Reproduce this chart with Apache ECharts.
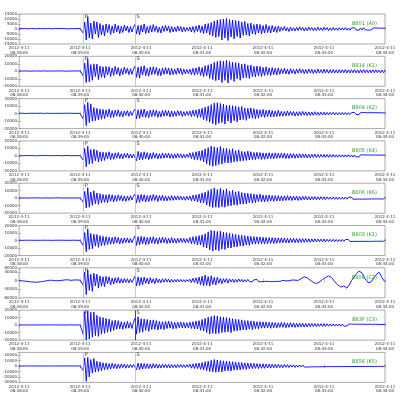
<!DOCTYPE html>
<html>
<head>
<meta charset="utf-8">
<script src="https://cdn.jsdelivr.net/npm/echarts@6/dist/echarts.min.js"></script>
<style>
  html, body { margin: 0; padding: 0; background: #fff; }
  #main { width: 413px; height: 399px; }
</style>
</head>
<body>
<div id="main"></div>
<script>
  // station names
  const stations = ['B801 (A0)', 'B814 (K1)', 'B804 (K2)', 'B805 (K4)', 'B806 (K6)', 'B803 (K1)', 'B808 (C2)', 'B83F (C3)', 'B856 (K5)'];
  // x tick labels (every 40 samples)
  const tickLabels = ['2012-4-11\n08:38:00', '2012-4-11\n08:39:00', '2012-4-11\n08:40:00', '2012-4-11\n08:41:00',
    '2012-4-11\n08:42:00', '2012-4-11\n08:43:00', '2012-4-11\n08:44:00'];
  // phase picks (sample index)
  const phases = [['P', 42], ['S', 76]];
  // y ranges per panel [min, max, interval], counts / 100
  const yRanges = [[-150, 150, 50], [-200, 200, 100], [-200, 200, 100], [-200, 200, 100], [-200, 200, 100],
    [-200, 200, 100], [-800, 600, 400], [-200, 200, 100], [-300, 250, 100]];

  // waveforms, counts / 100
  const w1 = [3,-4,5,-2,4,-5,2,-3,6,-4, 2,-5,4,-3,5,-2,3,-6,4,-2, 5,-3,2,-4,6,-3,4,-2,5,-4, 3,-5,2,-3,4,-6,3,-2,5,-3, 4,-2,
    -40,70,-110,125,-90,60,-100,80,-50,70, -85,55,-60,40,-70,50,-35,45,-55,30, -40,50,-30,35,-45,25,-35,40,-20,30, -35,25,-30,20,
    45,-50,35,-60,40,-30,50,-45,25,-40, 35,-30,45,-25,30,-35,20,-40,30,-25, 35,-20,30,-35,25,-30,20,-25,30,-20, 25,-30,20,-25,15,-20,
    20,-30,25,-35,30,-25,40,-35,30,-45, 50,-40,55,-60,65,-70,80,-85,90,-75, 95,-110,100,-90,105,-115,95,-80,90,-100,
    85,-75,80,-90,70,-65,75,-60,55,-70, 60,-50,45,-55,50,-40,45,-50,35,-40, 45,-35,30,-40,35,-30,25,-35,30,-25,
    20,-15,25,-20,15,-25,20,-18,12,-20, 18,-15,22,-12,16,-20,14,-18,20,-12, 15,-18,12,-16,20,-14,12,-15,18,-10,
    14,-16,12,-14,15,-12,10,-14,13,-11, 12,-10,14,-12,10,-13,11,-9,12,-10, 9,-12,11,-10,13,-9,10,-11,8,-10, 11,-9,10,-8,9,-10,8,-9,7];
  const w2 = [3,-5,4,-2,5,-4,3,-6,2,-4, 5,-3,4,-5,2,-3,6,-4,3,-2, 4,-5,3,-4,5,-2,4,-3,6,-5, 2,-4,3,-5,4,-3,5,-2,3,-4, 5,-3,
    -60,110,-150,170,-140,90,-120,100,-70,95, -110,70,-80,60,-90,65,-50,60,-70,45, -55,65,-40,50,-60,35,-45,55,-30,40, -45,35,-40,30,
    70,-80,55,-90,65,-50,75,-60,40,-65, 55,-45,60,-40,50,-55,35,-60,45,-40, 50,-35,45,-50,40,-45,30,-40,45,-30, 40,-45,30,-35,25,-30,
    30,-45,40,-50,45,-40,60,-55,50,-70, 75,-60,85,-95,100,-110,120,-125,130,-115, 140,-150,135,-120,145,-155,130,-110,120,-135,
    115,-100,110,-120,95,-90,100,-85,80,-95, 85,-70,65,-75,70,-60,65,-70,50,-55, 60,-50,45,-55,50,-45,40,-50,45,-40,
    35,-30,40,-35,30,-40,35,-28,25,-35, 30,-25,35,-22,28,-32,24,-30,32,-22, 26,-30,22,-26,30,-24,22,-25,28,-20,
    24,-26,22,-24,25,-22,20,-24,23,-21, 22,-20,24,-22,20,-23,21,-19,22,-20, 19,-22,21,-20,23,-19,20,-21,18,-20, 21,-19,20,-18,19,-20,18,-19,17];
  const w3 = [4,-3,5,-4,2,-5,3,-4,5,-2, 3,-5,4,-3,6,-4,2,-3,5,-4, 3,-2,4,-5,3,-4,5,-3,2,-4, 6,-3,4,-2,5,-4,3,-5,4,-3, 2,-4,
    -70,120,-160,150,-120,130,-100,80,-95,70, -85,60,-75,55,-65,50,-45,60,-55,40, -50,45,-35,50,-40,30,-45,35,-25,40, -35,30,-25,30,
    60,-70,50,-65,55,-45,60,-50,35,-55, 45,-40,50,-35,45,-50,30,-45,40,-35, 45,-30,40,-45,35,-40,30,-35,40,-25, 35,-40,25,-30,30,-25,
    35,-40,45,-35,50,-55,60,-50,70,-80, 85,-95,100,-115,120,-135,140,-150,145,-130, 135,-120,125,-140,110,-100,115,-125,105,-95,
    100,-110,90,-85,95,-80,75,-90,70,-65, 75,-60,65,-70,55,-60,50,-45,55,-50, 45,-40,50,-45,40,-45,35,-40,45,-35,
    30,-35,28,-32,36,-26,30,-24,28,-33, 24,-28,26,-24,29,-21,24,-27,22,-25, 20,-23,25,-20,18,-22,20,-17,19,-20,
    16,-18,17,-15,18,-16,14,-17,15,-14, 16,-13,15,-16,13,-15,14,-12,15,-13, 12,-14,13,-12,14,-11,12,-13,11,-12, 13,-11,12,-10,11,-12,10,-11,10];
  const w4 = [3,-4,2,-5,4,-3,5,-2,4,-4, 3,-5,2,-4,5,-3,4,-2,6,-3, 4,-5,3,-2,4,-4,5,-3,2,-5, 4,-3,5,-4,2,-3,4,-5,3,-2, 4,-3,
    -55,100,-145,130,-110,85,-100,90,-65,75, -80,55,-70,50,-60,45,-40,55,-50,35, -45,40,-30,45,-35,28,-40,32,-22,35, -30,26,-28,24,
    50,-65,60,-55,45,-50,55,-40,45,-50, 35,-40,45,-30,35,-40,30,-35,40,-30, 35,-25,38,-32,28,-34,25,-30,32,-22, 28,-30,22,-26,24,-20,
    40,-35,45,-50,55,-50,65,-60,75,-80, 95,-105,110,-125,130,-140,120,-130,110,-115, 125,-110,100,-90,100,-95,85,-90,95,-80,
    70,-75,80,-70,60,-65,55,-60,65,-55, 55,-50,45,-50,48,-42,45,-48,40,-45, 38,-40,42,-36,35,-38,40,-32,35,-30,
    35,-30,38,-35,30,-35,32,-28,30,-32, 26,-28,30,-25,27,-24,26,-28,22,-25, 23,-20,24,-22,19,-21,20,-18,19,-17,
    18,-20,17,-18,19,-16,15,-17,16,-15, 14,-16,15,-14,16,-13,14,-15,13,-14, 12,-13,14,-12,13,-11,12,-13,11,-12, 12,-11,10,-12,11,-10,11,-10,9];
  const w5 = [2,-4,4,-3,3,-5,2,-3,4,-2, 3,-4,5,-3,2,-4,3,-2,4,-3, 2,-5,3,-4,4,-2,5,-3,3,-4, 2,-3,4,-5,3,-2,4,-3,2,-4, 3,-2,
    -50,90,-130,140,-120,80,-95,100,-75,70, -80,60,-65,50,-55,45,-60,50,-40,45, -50,35,-40,45,-30,35,-38,30,-42,28, -30,32,-25,28,
    55,-60,45,-55,50,-40,45,-50,35,-45, 40,-35,50,-30,40,-45,35,-30,40,-35, 30,-35,25,-30,35,-28,30,-25,32,-22, 28,-26,22,-28,25,-22,
    30,-35,40,-38,45,-50,55,-60,70,-65, 80,-90,100,-110,120,-125,135,-120,115,-125, 130,-115,110,-120,125,-105,95,-100,105,-90,
    85,-95,90,-80,75,-80,70,-75,65,-60, 60,-65,55,-60,50,-45,55,-50,42,-48, 40,-45,42,-38,36,-42,35,-38,34,-36,
    30,-35,32,-30,35,-28,30,-32,27,-25, 28,-30,24,-26,25,-22,26,-23,20,-24, 22,-19,21,-20,18,-19,20,-17,18,-16,
    17,-15,16,-14,17,-15,15,-16,14,-15, 13,-14,15,-13,14,-12,13,-14,12,-13, 12,-11,13,-12,11,-12,10,-11,12,-10, 11,-10,10,-9,10,-11,9,-10,9];
  const w6 = [3,-3,2,-4,3,-2,4,-3,3,-3, 2,-4,3,-3,2,-3,4,-3,3,-2, 3,-4,2,-3,4,-3,3,-2,4,-4, 3,-3,2,-4,3,-3,4,-2,3,-3, 2,-3,
    -65,105,-150,155,-120,95,-110,85,-75,80, -90,65,-70,55,-65,50,-55,45,-50,40, -45,50,-35,40,-45,30,-38,34,-28,36, -32,26,-30,24,
    60,-65,50,-60,55,-45,50,-55,40,-50, 45,-35,50,-40,35,-45,40,-35,45,-30, 38,-40,30,-35,40,-32,28,-36,30,-28, 32,-26,28,-30,24,-28,
    40,-45,50,-48,55,-60,65,-60,75,-85, 90,-100,115,-125,135,-140,130,-125,120,-135, 125,-115,110,-120,105,-100,95,-100,90,-85,
    80,-85,75,-70,70,-75,65,-60,60,-65, 55,-50,52,-48,50,-45,48,-44,42,-46, 40,-42,40,-38,38,-40,35,-38,36,-34,
    35,-30,35,-32,30,-33,29,-27,30,-28, 26,-29,25,-26,24,-25,26,-22,23,-24, 21,-20,22,-19,20,-18,19,-17,18,-16,
    17,-15,15,-14,16,-15,14,-15,13,-14, 15,-13,14,-12,13,-14,12,-13,12,-11, 13,-12,11,-12,12,-10,11,-12,10,-11, 11,-10,10,-11,10,-9,9,-10,9];
  const w7 = [0,-15,-10,-30,-25,-40,-35,-55,-60,-70, -65,-80,-75,-70,-50,-45,-30,-20,-5,10, 20,25,15,5,-5,-10,0,5,15,25, 35,30,40,25,15,20,30,25,35,20, 25,15,
    -200,400,-650,500,-450,300,-500,350,-250,300, -350,220,-260,180,-280,200,-150,180,-200,120, -160,140,-110,150,-120,90,-110,100,-80,90, -100,70,-80,60,
    200,-250,180,-220,150,-190,170,-130,120,-160, 140,-110,90,-140,110,-90,70,-100,85,-70, 90,-65,75,-80,60,-70,55,-65,70,-50, 60,-55,45,-60,50,-45,
    70,-90,110,-80,130,-140,170,-190,210,-240, 260,-220,190,-250,230,-180,150,-200,160,-120, 100,-140,90,-80,100,-120,80,-60,70,-90,
    60,-70,80,-50,60,-70,45,-55,60,-40, 50,-60,40,-50,55,-45,35,-50,40,-35, 45,-30,40,-45,30,-40,35,-30,40,-35,
    40,10,-20,-10,15,-5,20,30,40,25,30,10, 60,100,140,180,170,130,80,20,-30,-80,-120,-140,
    -100,-60,0,50,100,150,190,220,200,150,60,-50, -130,-200,-260,-300,-280,-250,-290,-350,-300,-150,0,100,
    200,300,380,450,420,350,220,100,0,-100,-80,-50, 50,150,260,350,400,330,150,30,-50];
  const w8 = [2,-2,3,-1,2,-3,1,-2,3,-2, 1,-3,2,-1,3,-2,1,-2,3,-1, 2,-2,3,-1,2,-3,1,-2,3,-2, 1,-3,2,-1,3,-2,1,-2,3,-1, 2,-2,
    -120,180,-195,190,-185,170,-160,175,-140,130, -150,110,-120,100,-110,90,-95,80,-85,60, -70,65,-55,60,-50,45,-55,40,-45,50, -40,35,-45,38,
    90,-120,110,-100,85,-95,80,-70,75,-85, 65,-60,70,-55,60,-65,50,-55,45,-60, 50,-45,55,-40,45,-50,38,-45,40,-35, 42,-38,35,-40,32,-36,
    40,-45,45,-50,55,-52,60,-70,75,-80, 90,-100,105,-120,115,-110,125,-115,120,-110, 110,-100,105,-95,100,-90,95,-100,85,-80,
    80,-75,75,-70,70,-65,60,-65,60,-55, 55,-60,50,-48,45,-50,45,-40,42,-40, 40,-38,38,-42,36,-35,34,-38,32,-30,
    35,-30,33,-35,28,-30,32,-27,29,-30, 25,-27,28,-24,25,-26,22,-24,23,-21, 22,-20,21,-19,20,-18,19,-17,18,-16,
    17,-15,15,-14,16,-15,14,-13,15,-14, 13,-14,12,-13,14,-12,13,-12,11,-12, 12,-11,12,-10,11,-12,10,-11,11,-10, 10,-9,11,-10,9,-10,9,-8,9];
  const w9 = [1,-1,1,-1,1,-1,1,-1,1,-1, 1,-1,1,-1,1,-1,1,-1,1,-1, 1,-1,1,-1,1,-1,1,-1,1,-1, 1,-1,1,-1,1,-1,1,-1,1,-1, 1,-1,
    -80,150,-280,160,-200,120,-130,140,-110,90, -100,75,-85,60,-70,55,-65,45,-55,50, -45,40,-50,35,-42,38,-30,35,-40,28, -32,30,-26,28,
    60,-70,55,-65,50,-55,45,-50,42,-48, 38,-42,45,-35,38,-40,32,-38,35,-30, 34,-32,30,-35,28,-30,26,-32,28,-25, 30,-26,24,-28,25,-22,
    35,-40,40,-45,50,-48,55,-60,65,-70, 80,-85,90,-100,105,-110,120,-115,110,-105, 100,-108,95,-90,92,-88,85,-90,80,-75,
    75,-70,68,-72,65,-60,58,-62,55,-50, 52,-48,50,-45,45,-48,42,-40,40,-42, 38,-36,35,-38,34,-32,30,-34,32,-28,
    25,-30,30,-23,25,-27,22,-20,23,-25, 19,-21,20,-17,21,-18,16,-19,17,-15, 16,-15,14,-15,15,-13,14,-12,13,-11,
    12,-10,11,-10,12,-11,10,-11,9,-10, 11,-9,10,-8,9,-10,8,-9,10,-8, 9,-8,8,-9,7,-8,9,-7,8,-7, 7,-8,6,-7,8,-6,7,-6,6];
  const waves = [w1, w2, w3, w4, w5, w6, w7, w8, w9];

  let chart = echarts.init(document.getElementById('main'));
  let grids = [], xAxes = [], yAxes = [], series = [], titles = [];
  const top0 = 14, step = 42.3, ph = 30;
  const tick = {inside: true, length: 2, lineStyle: {color: '#888', width: 0.5}};

  waves.forEach(function (w, i) {
    let top = top0 + i * step;
    grids.push({left: 19, right: 28, top: top, height: ph, show: true, borderColor: '#888', borderWidth: 0.7});
    xAxes.push({
      type: 'value', gridIndex: i, min: 0, max: 240, interval: 40,
      axisLine: {show: false}, splitLine: {show: false}, axisTick: tick,
      axisLabel: {fontSize: 4, color: '#333', margin: 2, lineHeight: 4.5, formatter: function (v) { return tickLabels[v / 40]; }}
    });
    xAxes.push({
      type: 'value', gridIndex: i, position: 'top', min: 0, max: 240, interval: 40,
      axisLine: {show: false}, splitLine: {show: false}, axisLabel: {show: false}, axisTick: tick
    });
    let r = yRanges[i];
    yAxes.push({
      type: 'value', gridIndex: i, min: r[0], max: r[1], interval: r[2],
      axisLine: {show: false}, splitLine: {show: false}, axisTick: tick,
      axisLabel: {fontSize: 4, color: '#333', margin: 2, formatter: function (v) { return String(v * 100); }}
    });
    yAxes.push({
      type: 'value', gridIndex: i, position: 'right', min: r[0], max: r[1], interval: r[2],
      axisLine: {show: false}, splitLine: {show: false}, axisLabel: {show: false}, axisTick: tick
    });
    series.push({
      type: 'line', xAxisIndex: i * 2, yAxisIndex: i * 2, symbol: 'none',
      data: w.map(function (v, k) { return [k, v]; }),
      lineStyle: {color: '#0000ff', width: 0.9},
      markLine: {
        silent: true, symbol: 'none', animation: false,
        label: {position: 'end', fontSize: 5, color: '#333', distance: 0, offset: [3, 5]},
        data: phases.map(function (p) {
          let strong = (i === 7 && p[0] === 'S');
          return {xAxis: p[1], label: {formatter: p[0]},
            lineStyle: {color: strong ? '#ff0000' : '#f5a3a3', width: strong ? 1 : 0.8, type: 'solid'}};
        })
      }
    });
    titles.push({
      text: stations[i], right: 31, top: top + 2,
      textStyle: {fontSize: 5, fontWeight: 'normal', color: '#2ca02c', fontFamily: 'DejaVu Sans'}
    });
  });

  chart.setOption({
    animation: false,
    textStyle: {fontFamily: 'DejaVu Sans'},
    title: titles,
    grid: grids,
    xAxis: xAxes,
    yAxis: yAxes,
    series: series
  });
</script>
</body>
</html>
